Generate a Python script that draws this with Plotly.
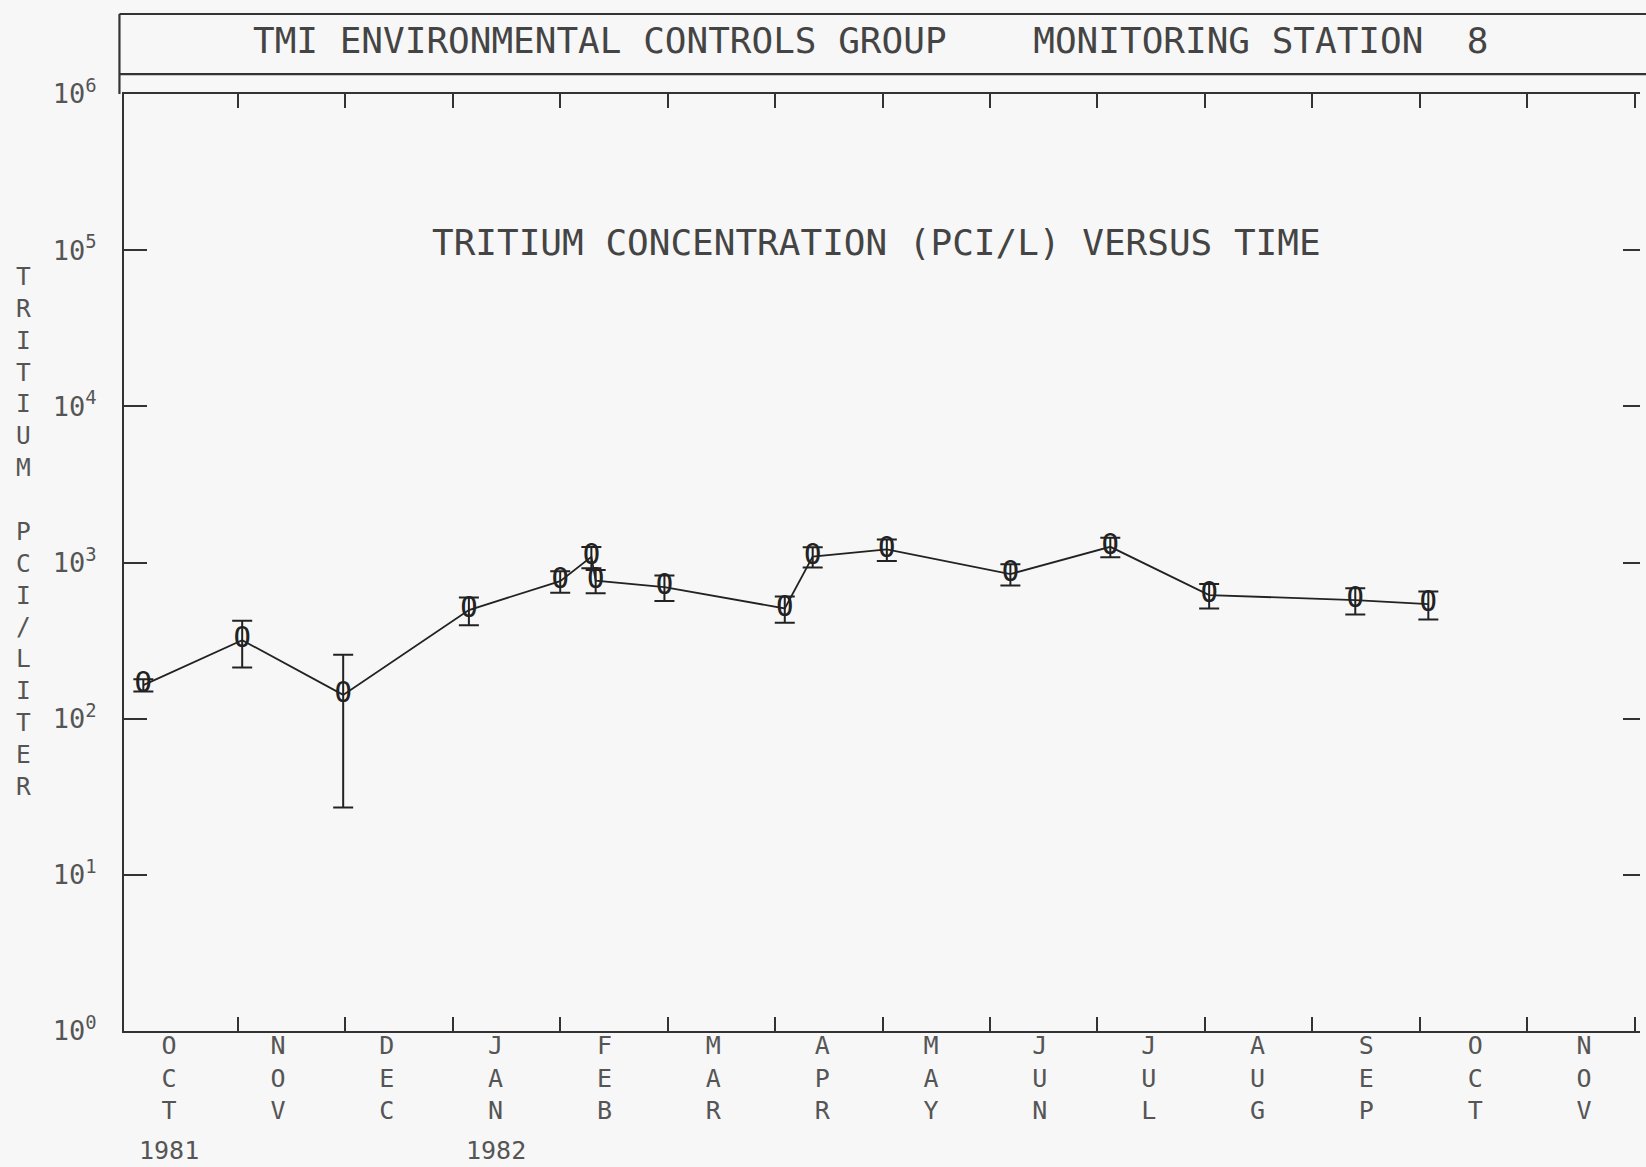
import plotly.graph_objects as go

# ---- data (x = months since 1 Oct 1981) ----
month_names = ["OCT", "NOV", "DEC", "JAN", "FEB", "MAR", "APR",
               "MAY", "JUN", "JUL", "AUG", "SEP", "OCT", "NOV"]
year_labels = ["1981", "1982"]
year_month_index = [0, 3]

sample_month = [0.12, 1.04, 1.98, 3.15, 4.00, 4.29, 4.33, 4.97,
                6.09, 6.35, 7.04, 8.19, 9.12, 10.04, 11.40, 12.08]
tritium = [164, 318, 142, 496, 760, 1088, 765, 696,
           508, 1090, 1213, 843, 1260, 618, 575, 542]
tritium_err = [15, 105, 115, 100, 120, 170, 130, 130,
               97, 160, 190, 130, 180, 110, 110, 110]

decades = [1, 10, 100, 1000, 10000, 100000, 1000000]
decade_labels = ["10<sup>%d</sup>" % i for i in range(7)]

MONO = "DejaVu Sans Mono"
INK = "#222222"
GREY = "#555555"
BG = "#f7f7f7"

# month label placement as printed on the original plotter sheet
label_start, label_step = 0.36, 1.013
month_edges = list(range(1, len(month_names) + 1))
label_pos = [label_start + label_step * i for i in range(len(month_names))]
month_text = ["<br>".join(list(m)) for m in month_names]
x_range = [-0.06, 14.05]

fig = go.Figure()
fig.add_trace(go.Scatter(
    x=sample_month, y=tritium, mode="lines+text",
    text=["O"] * len(tritium), textposition="middle center",
    textfont=dict(family=MONO, size=29, color=INK),
    line=dict(color=INK, width=1.8),
    error_y=dict(type="data", array=tritium_err, color=INK,
                 thickness=2, width=10),
    showlegend=False, hoverinfo="skip"))
# helper traces so the overlay axes are drawn
fig.add_trace(go.Scatter(x=[], y=[], xaxis="x2", yaxis="y", showlegend=False))
fig.add_trace(go.Scatter(x=[], y=[], xaxis="x", yaxis="y2", showlegend=False))

fig.update_layout(
    width=1646, height=1167,
    margin=dict(l=124, r=6, t=94, b=136),
    paper_bgcolor=BG, plot_bgcolor=BG,
    showlegend=False,
    xaxis=dict(range=x_range, showgrid=False, zeroline=False,
               showline=True, linecolor="#333", linewidth=2, mirror="ticks",
               tickvals=month_edges, ticks="inside", ticklen=14,
               tickwidth=2, tickcolor="#333", showticklabels=False),
    xaxis2=dict(range=x_range, overlaying="x", side="bottom", anchor="y",
                showgrid=False, zeroline=False, showline=False,
                tickvals=label_pos, ticktext=month_text, ticks="",
                tickfont=dict(family=MONO, size=25, color=GREY),
                ticklabelstandoff=-3),
    yaxis=dict(type="log", range=[0, 6], showgrid=False, zeroline=False,
               showline=True, linecolor="#333", linewidth=2,
               tickvals=decades, ticktext=decade_labels,
               ticks="inside", ticklen=23, tickwidth=2, tickcolor="#333",
               tickfont=dict(family=MONO, size=27, color=GREY),
               ticklabelstandoff=20),
    yaxis2=dict(type="log", range=[0, 6], overlaying="y", side="right",
                anchor="x", showgrid=False, zeroline=False, showline=False,
                tickvals=decades[1:-1], ticks="inside", ticklen=17,
                tickwidth=2, tickcolor="#333", showticklabels=False),
)

# title box
box = dict(color="#333", width=2.2)
fig.add_shape(type="line", xref="paper", yref="paper",
              x0=-0.003, x1=1.02, y0=1.0854, y1=1.0854, line=box)
fig.add_shape(type="line", xref="paper", yref="paper",
              x0=-0.003, x1=1.02, y0=1.0213, y1=1.0213, line=box)
fig.add_shape(type="line", xref="paper", yref="paper",
              x0=-0.003, x1=-0.003, y0=1.0, y1=1.0854, line=box)

fig.add_annotation(
    text="TMI ENVIRONMENTAL CONTROLS GROUP\u00a0\u00a0\u00a0\u00a0MONITORING STATION\u00a0\u00a08",
    xref="paper", yref="paper", x=0.4927, y=1.0576,
    xanchor="center", yanchor="middle", showarrow=False,
    font=dict(family=MONO, size=36, color="#444"))
fig.add_annotation(
    text="TRITIUM CONCENTRATION (PCI/L) VERSUS TIME",
    xref="paper", yref="paper", x=0.4964, y=0.842,
    xanchor="center", yanchor="middle", showarrow=False,
    font=dict(family=MONO, size=36, color="#444"))

ylabel = "TRITIUM PCI/LITER"
fig.add_annotation(
    text="<br>".join(c if c != " " else "\u00a0" for c in ylabel),
    xref="paper", yref="paper", x=-0.066, y=0.533,
    xanchor="center", yanchor="middle", showarrow=False,
    font=dict(family=MONO, size=24.5, color=GREY))

for yl, mi in zip(year_labels, year_month_index):
    fig.add_annotation(text=yl, xref="x", yref="paper",
                       x=label_pos[mi], y=-0.128,
                       xanchor="center", yanchor="middle", showarrow=False,
                       font=dict(family=MONO, size=25, color=GREY))

fig.write_html("out.html")
